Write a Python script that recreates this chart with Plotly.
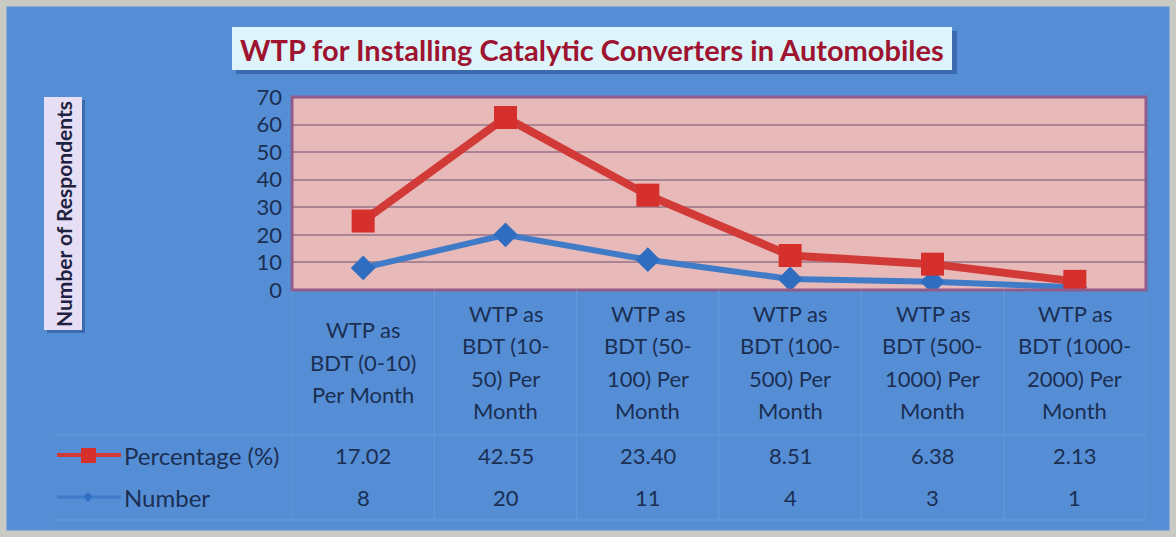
import plotly.graph_objects as go

# ---- data ----
categories = ["0-10", "10-50", "50-100", "100-500", "500-1000", "1000-2000"]
category_labels = [
    ["WTP as", "BDT (0-10)", "Per Month"],
    ["WTP as", "BDT (10-", "50) Per", "Month"],
    ["WTP as", "BDT (50-", "100) Per", "Month"],
    ["WTP as", "BDT (100-", "500) Per", "Month"],
    ["WTP as", "BDT (500-", "1000) Per", "Month"],
    ["WTP as", "BDT (1000-", "2000) Per", "Month"],
]
percentage = [17.02, 42.55, 23.40, 8.51, 6.38, 2.13]
number = [8, 20, 11, 4, 3, 1]
series_names = ["Percentage (%)", "Number"]
y_ticks = [0, 10, 20, 30, 40, 50, 60, 70]
title_text = "WTP for Installing Catalytic Converters in Automobiles"
y_title = "Number of Respondents"

# ---- layout geometry (pixels) ----
W, H = 1176, 537
PL, PR, PT, PB = 292, 1146, 97, 290


def px(x):
    return (x - PL) / (PR - PL)


def py(y):
    return (PB - y) / (PB - PT)


FONT = "Lato"
TXT = "#1B2F52"
BLUE_BG = "#568ED6"
RED = "#D13A36"
BLUE = "#3F7BC7"
TS = 22  # table font size

fig = go.Figure()
# stacked line chart (Number at bottom, Percentage stacked on top)
fig.add_trace(go.Scatter(
    x=categories, y=number, name=series_names[1], stackgroup="one", fill="none",
    mode="lines+markers", line=dict(color=BLUE, width=6),
    marker=dict(symbol="diamond", size=19, color="#2F6DC0"),
))
fig.add_trace(go.Scatter(
    x=categories, y=percentage, name=series_names[0], stackgroup="one", fill="none",
    mode="lines+markers", line=dict(color=RED, width=8),
    marker=dict(symbol="square", size=23, color="#D5302C"),
))

shapes = []
# outer gray frame
shapes.append(dict(type="rect", xref="paper", yref="paper",
                   x0=px(0), x1=px(W), y0=py(H), y1=py(0),
                   line=dict(color="#C9CAC4", width=13), fillcolor="rgba(0,0,0,0)"))
# title box shadow + box
shapes.append(dict(type="rect", xref="paper", yref="paper",
                   x0=px(236), x1=px(957), y0=py(74), y1=py(31),
                   line=dict(width=0), fillcolor="#3C6AAE", layer="below"))
shapes.append(dict(type="rect", xref="paper", yref="paper",
                   x0=px(232), x1=px(952), y0=py(70), y1=py(27),
                   line=dict(width=0), fillcolor="#DDF4FB", layer="below"))
# y title box shadow + box
shapes.append(dict(type="rect", xref="paper", yref="paper",
                   x0=px(47), x1=px(85), y0=py(333), y1=py(100),
                   line=dict(width=0), fillcolor="#3C6AAE", layer="below"))
shapes.append(dict(type="rect", xref="paper", yref="paper",
                   x0=px(44), x1=px(82), y0=py(330), y1=py(97),
                   line=dict(width=0), fillcolor="#E6DEF4", layer="below"))
# plot area border
shapes.append(dict(type="rect", xref="paper", yref="paper",
                   x0=0, x1=1, y0=0, y1=1,
                   line=dict(color="#8F5C8C", width=3), fillcolor="rgba(0,0,0,0)"))
# faint table grid lines
for i in range(len(categories) + 1):
    shapes.append(dict(type="line", xref="x", yref="paper",
                       x0=i - 0.5, x1=i - 0.5, y0=py(520), y1=0,
                       line=dict(color="#6699DA", width=1)))
shapes.append(dict(type="line", xref="paper", yref="paper",
                   x0=px(55), x1=1, y0=py(435), y1=py(435),
                   line=dict(color="#6699DA", width=1)))
shapes.append(dict(type="line", xref="paper", yref="paper",
                   x0=px(55), x1=1, y0=py(520), y1=py(520),
                   line=dict(color="#6699DA", width=1)))
# legend keys in table
shapes.append(dict(type="line", xref="paper", yref="paper",
                   x0=px(57), x1=px(121), y0=py(455), y1=py(455),
                   line=dict(color=RED, width=4)))
shapes.append(dict(type="rect", xref="paper", yref="paper",
                   x0=px(81), x1=px(96), y0=py(463), y1=py(448),
                   line=dict(width=0), fillcolor="#D5302C"))
shapes.append(dict(type="line", xref="paper", yref="paper",
                   x0=px(57), x1=px(121), y0=py(497), y1=py(497),
                   line=dict(color=BLUE, width=3)))
dx, dy = 4.5 / (PR - PL), 5 / (PB - PT)
cx, cy = px(88), py(497)
shapes.append(dict(type="path", xref="paper", yref="paper",
                   path=f"M {cx},{cy+dy} L {cx+dx},{cy} L {cx},{cy-dy} L {cx-dx},{cy} Z",
                   line=dict(width=0), fillcolor="#2F6DC0"))

annotations = []
annotations.append(dict(text=f"<b>{title_text}</b>", xref="paper", yref="paper",
                        x=px(592), y=py(49), showarrow=False, xanchor="center", yanchor="middle",
                        font=dict(family=FONT, size=29, color="#9E1430")))
annotations.append(dict(text=f"<b>{y_title}</b>", xref="paper", yref="paper",
                        x=px(63), y=py(214), showarrow=False, textangle=-90,
                        xanchor="center", yanchor="middle",
                        font=dict(family=FONT, size=21, color="#1E2240")))
# category labels, line by line
LS = 32.5
for cat, lines in zip(categories, category_labels):
    n = len(lines)
    for j, ln in enumerate(lines):
        yc = 362 + (j - (n - 1) / 2) * LS
        annotations.append(dict(text=ln, xref="x", yref="paper", x=cat, y=py(yc),
                                showarrow=False, xanchor="center", yanchor="middle",
                                font=dict(family=FONT, size=TS, color=TXT)))
# table values
for cat, p, n in zip(categories, percentage, number):
    annotations.append(dict(text=f"{p:.2f}", xref="x", yref="paper", x=cat, y=py(455),
                            showarrow=False, xanchor="center", yanchor="middle",
                            font=dict(family=FONT, size=TS, color=TXT)))
    annotations.append(dict(text=f"{n}", xref="x", yref="paper", x=cat, y=py(497),
                            showarrow=False, xanchor="center", yanchor="middle",
                            font=dict(family=FONT, size=TS, color=TXT)))
annotations.append(dict(text=series_names[0], xref="paper", yref="paper", x=px(122), y=py(455),
                        showarrow=False, xanchor="left", yanchor="middle",
                        font=dict(family=FONT, size=TS + 2, color=TXT)))
annotations.append(dict(text=series_names[1], xref="paper", yref="paper", x=px(122), y=py(497),
                        showarrow=False, xanchor="left", yanchor="middle",
                        font=dict(family=FONT, size=TS + 2, color=TXT)))

fig.update_layout(
    width=W, height=H,
    margin=dict(l=PL, r=W - PR, t=PT, b=H - PB, pad=0),
    paper_bgcolor=BLUE_BG, plot_bgcolor="#E7B9B8",
    showlegend=False,
    shapes=shapes, annotations=annotations,
    xaxis=dict(type="category", categoryorder="array", categoryarray=categories,
               range=[-0.5, len(categories) - 0.5], showticklabels=False,
               showgrid=False, zeroline=False, showline=False, ticks=""),
    yaxis=dict(range=[0, 70], tickvals=y_ticks, ticktext=[str(v) for v in y_ticks],
               showgrid=True, gridcolor="#A98493", gridwidth=1.5, zeroline=False,
               showline=False, ticks="", ticklabelstandoff=9,
               tickfont=dict(family=FONT, size=22, color=TXT)),
)

fig.write_html("out.html", config={"displayModeBar": False},
               post_script="document.body.style.margin='0';document.body.style.overflow='hidden';")
